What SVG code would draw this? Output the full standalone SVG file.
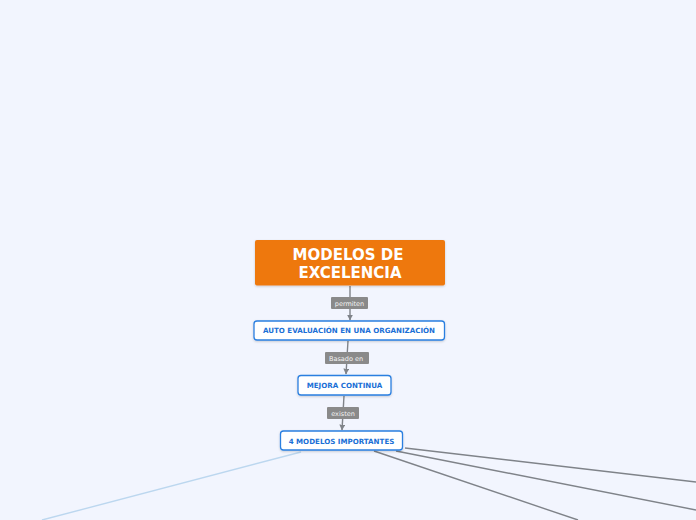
<svg xmlns="http://www.w3.org/2000/svg" width="696" height="520" viewBox="0 0 696 520">
<style>
.node{fill:#ffffff;stroke:#2a7fe0;stroke-width:1.3}
.ntext{font-family:"DejaVu Sans",Verdana,sans-serif;font-weight:bold;font-size:7.1px;fill:#1a6fd6;text-anchor:middle}
.link{stroke:#7f8389;stroke-width:1.4;fill:none}
.lab{fill:#8a8a8a}
.ltext{font-family:"DejaVu Sans",sans-serif;font-size:6.5px;fill:#f4f4f4;text-anchor:middle}
</style>
<defs>
<marker id="arr" viewBox="0 0 10 10" refX="9" refY="5" markerWidth="6" markerHeight="6" orient="auto" markerUnits="userSpaceOnUse">
<path d="M0,0 L10,5 L0,10 z" fill="#7f8389"/>
</marker>
<filter id="sh" x="-10%" y="-20%" width="120%" height="150%">
<feDropShadow dx="0" dy="1" stdDeviation="0.8" flood-color="#000" flood-opacity="0.18"/>
</filter>
</defs>
<rect width="696" height="520" fill="#f2f5fe"/>
<g id="connectors">
<line class="link" x1="350" y1="286" x2="350" y2="320" marker-end="url(#arr)"/>
<line class="link" x1="348" y1="341" x2="346" y2="374" marker-end="url(#arr)"/>
<line class="link" x1="344" y1="396" x2="342" y2="430" marker-end="url(#arr)"/>
<line x1="301" y1="452" x2="42" y2="520" stroke="#bcd7ef" stroke-width="1.4"/>
<line class="link" x1="405" y1="448" x2="696" y2="482"/>
<line class="link" x1="396" y1="451" x2="696" y2="510"/>
<line class="link" x1="374" y1="451" x2="578" y2="520"/>
<g id="lab-permiten"><rect class="lab" x="331" y="297" width="37" height="12" rx="1"/><text class="ltext" x="349.5" y="305.5">permiten</text></g>
<g id="lab-basado"><rect class="lab" x="325" y="352" width="44" height="12" rx="1"/><text class="ltext" x="346" y="360.5">Basado en</text></g>
<g id="lab-existen"><rect class="lab" x="327" y="407" width="32" height="12" rx="1"/><text class="ltext" x="343" y="415.5">existen</text></g>
</g>
<g id="n-modelos">
<rect x="255" y="240" width="190" height="45.5" rx="2" fill="#ee780f" filter="url(#sh)"/>
<text x="348" y="260" font-family="'DejaVu Sans',Verdana,sans-serif" font-weight="bold" font-size="15px" fill="#ffffff" text-anchor="middle">MODELOS DE</text>
<text x="350" y="278" font-family="'DejaVu Sans',Verdana,sans-serif" font-weight="bold" font-size="15px" fill="#ffffff" text-anchor="middle">EXCELENCIA</text>
</g>
<g id="n-auto">
<rect class="node" x="254" y="321" width="190.5" height="19" rx="3" filter="url(#sh)"/>
<text class="ntext" x="349" y="333">AUTO EVALUACIÓN EN UNA ORGANIZACIÓN</text>
</g>
<g id="n-mejora">
<rect class="node" x="298" y="375.5" width="93" height="19.5" rx="3" filter="url(#sh)"/>
<text class="ntext" x="344.5" y="388">MEJORA CONTINUA</text>
</g>
<g id="n-4modelos">
<rect class="node" x="280.5" y="431" width="122" height="19" rx="3" filter="url(#sh)"/>
<text class="ntext" x="341.5" y="443.5">4 MODELOS IMPORTANTES</text>
</g>
</svg>
